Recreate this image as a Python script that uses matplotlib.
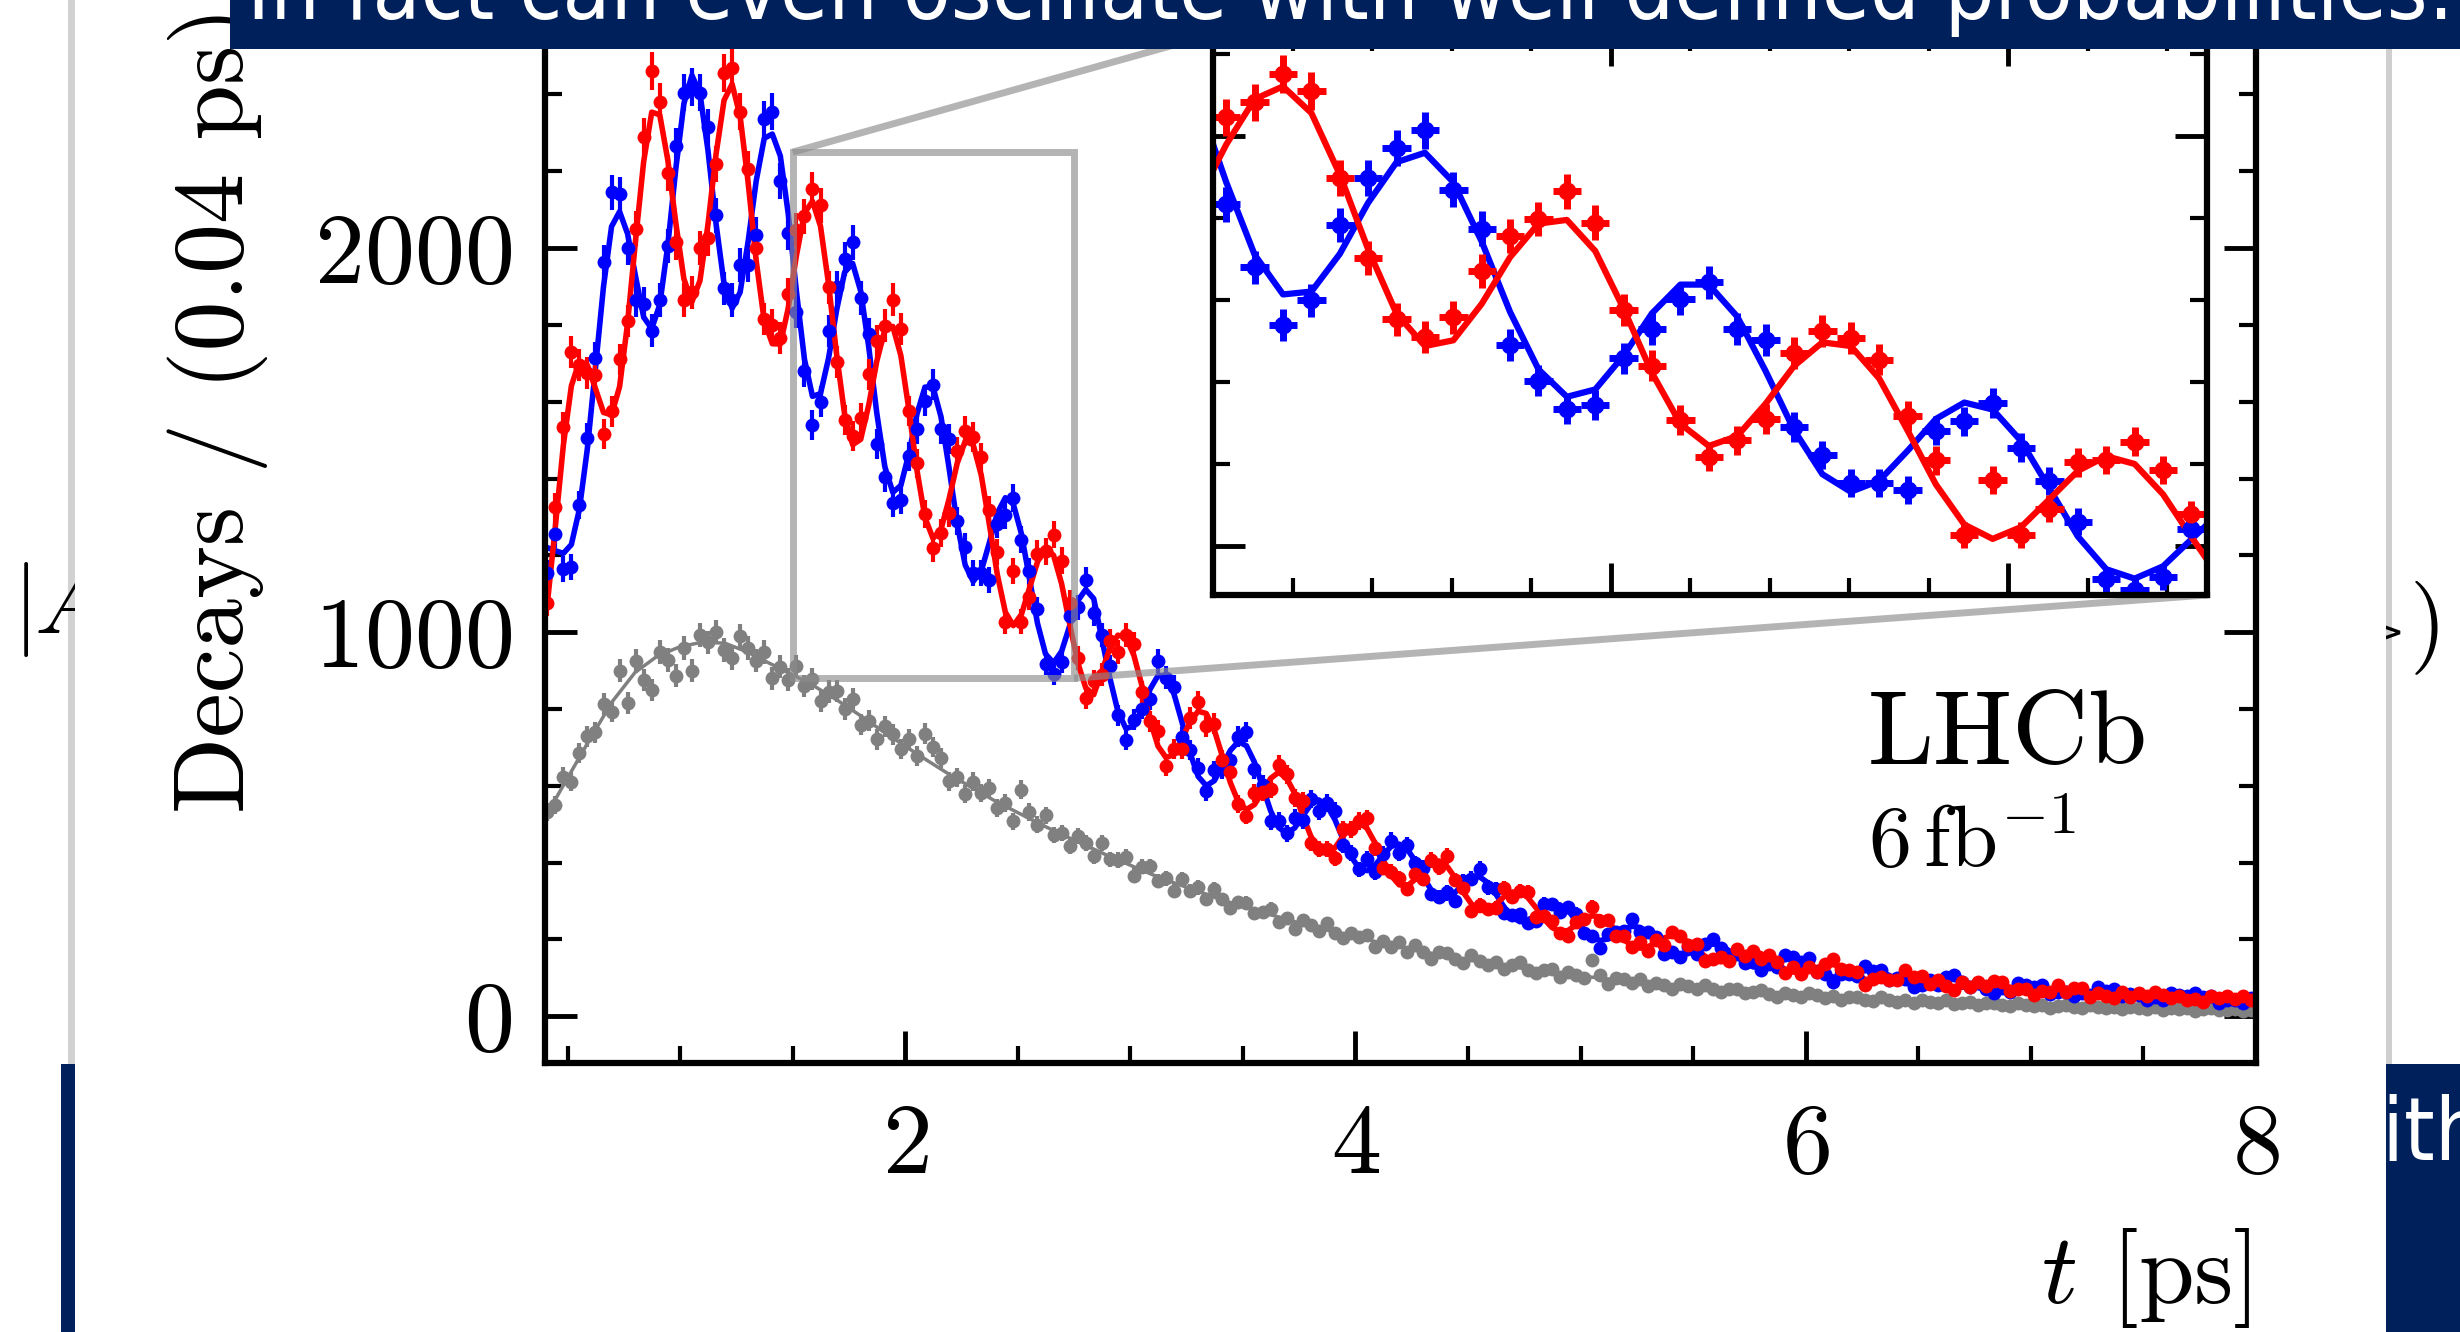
import numpy as np
import matplotlib
matplotlib.use("Agg")
import matplotlib.pyplot as plt
from matplotlib import font_manager
from matplotlib.font_manager import FontProperties
from matplotlib.ticker import MultipleLocator
from matplotlib.patches import Rectangle
from mpl_toolkits.axes_grid1.inset_locator import mark_inset

# Canvas size in pixels (dpi 100)
W, H = 2460, 1332

plt.rcParams["font.family"] = "cmr10"
plt.rcParams["mathtext.fontset"] = "cm"
plt.rcParams["axes.unicode_minus"] = False
plt.rcParams["axes.formatter.use_mathtext"] = True

# ---- data ----
# bin centres of the decay-time histogram (ps)
t_bins = np.linspace(0.410, 7.978, 213)
bin_half = 0.0357 / 2

decays_blue = [
    1155, 1255, 1165, 1170, 1330, 1505, 1715, 1965, 2145, 2140,
    2000, 1865, 1855, 1785, 1865, 2005, 2265, 2405, 2420, 2405,
    2315, 2085, 1895, 1865, 1955, 1955, 2035, 2335, 2355, 2175,
    2040, 1834, 1680, 1539, 1600, 1784, 1898, 1972, 2015, 1870,
    1775, 1490, 1403, 1335, 1345, 1458, 1530, 1603, 1644, 1530,
    1503, 1290, 1222, 1154, 1154, 1136, 1281, 1304, 1349, 1240,
    1159, 1059, 918, 891, 923, 1041, 1065, 1137, 1049, 993,
    911, 783, 719, 772, 801, 825, 925, 881, 858, 726,
    694, 646, 585, 640, 643, 666, 728, 740, 643, 603,
    507, 509, 476, 516, 510, 565, 533, 556, 534, 445,
    424, 382, 409, 375, 423, 457, 425, 445, 398, 386,
    317, 310, 323, 300, 351, 358, 384, 335, 330, 269,
    264, 266, 243, 248, 293, 291, 270, 283, 267, 216,
    208, 177, 214, 219, 223, 252, 219, 218, 207, 162,
    168, 155, 180, 161, 187, 201, 177, 156, 162, 139,
    142, 119, 137, 128, 158, 153, 141, 151, 114, 110,
    89, 110, 109, 105, 130, 117, 121, 95, 100, 97,
    77, 82, 94, 81, 101, 106, 89, 76, 86, 71,
    60, 73, 64, 87, 81, 75, 80, 57, 63, 63,
    52, 61, 55, 75, 66, 70, 52, 57, 56, 43,
    49, 41, 60, 55, 52, 60, 49, 52, 35, 41,
    43, 33, 47,
]

decays_red = [
    1075, 1325, 1535, 1730, 1695, 1675, 1670, 1515, 1575, 1710,
    1810, 2050, 2290, 2460, 2380, 2195, 2015, 1865, 1885, 2000,
    2025, 2220, 2455, 2470, 2355, 2205, 2000, 1815, 1800, 1765,
    1880, 2047, 2083, 2153, 2111, 1898, 1703, 1553, 1510, 1558,
    1671, 1757, 1798, 1866, 1789, 1576, 1440, 1308, 1218, 1258,
    1310, 1471, 1524, 1508, 1455, 1317, 1209, 1027, 1160, 1027,
    1091, 1204, 1210, 1254, 1186, 1077, 933, 828, 872, 889,
    978, 949, 993, 969, 843, 768, 743, 652, 695, 695,
    776, 819, 755, 761, 667, 635, 552, 522, 581, 584,
    592, 655, 630, 568, 559, 450, 435, 435, 411, 487,
    487, 508, 515, 438, 387, 376, 360, 332, 369, 358,
    406, 388, 417, 355, 333, 273, 290, 279, 282, 333,
    310, 326, 323, 259, 260, 248, 216, 210, 246, 253,
    285, 249, 250, 208, 210, 179, 193, 170, 199, 186,
    220, 209, 186, 188, 143, 150, 153, 143, 174, 156,
    169, 148, 159, 141, 112, 127, 110, 128, 116, 135,
    149, 122, 119, 114, 82, 96, 101, 94, 94, 119,
    102, 105, 83, 93, 78, 68, 88, 76, 89, 78,
    91, 89, 65, 70, 71, 55, 66, 63, 81, 64,
    72, 74, 51, 59, 52, 46, 62, 50, 61, 52,
    64, 56, 46, 52, 42, 45, 36, 52, 47, 53,
    44, 53, 41,
]

decays_grey = [
    531, 549, 623, 610, 686, 729, 739, 814, 793, 900,
    815, 925, 875, 850, 948, 927, 887, 958, 900, 993,
    973, 1000, 954, 933, 989, 958, 926, 948, 880, 910,
    876, 911, 860, 878, 820, 845, 847, 800, 826, 759,
    769, 721, 755, 734, 696, 721, 678, 735, 700, 673,
    612, 622, 578, 610, 581, 593, 542, 555, 507, 590,
    532, 498, 523, 472, 477, 442, 469, 450, 416, 450,
    408, 407, 414, 366, 389, 390, 352, 359, 327, 356,
    327, 335, 304, 331, 304, 281, 296, 295, 268, 270,
    280, 245, 256, 228, 250, 238, 222, 243, 216, 203,
    217, 205, 212, 181, 195, 180, 192, 168, 186, 168,
    150, 166, 165, 150, 139, 159, 144, 132, 142, 122,
    133, 141, 121, 112, 120, 124, 101, 115, 107, 99,
    146, 107, 85, 99, 98, 87, 97, 79, 86, 82,
    71, 84, 78, 70, 81, 70, 62, 71, 71, 59,
    63, 69, 58, 51, 61, 56, 50, 59, 54, 48,
    53, 41, 49, 51, 43, 39, 49, 43, 38, 43,
    34, 42, 38, 34, 41, 32, 34, 36, 28, 34,
    35, 30, 26, 33, 29, 26, 30, 21, 27, 28,
    24, 20, 29, 23, 20, 24, 18, 25, 21, 18,
    24, 16, 20, 18, 21, 14, 19, 20, 15, 17,
    18, 13, 16,
]

# fitted curves, same bins
fit_blue = [
    1220, 1212, 1205, 1228, 1320, 1479, 1688, 1900, 2056, 2095,
    2037, 1925, 1820, 1790, 1853, 2007, 2207, 2376, 2450, 2403,
    2254, 2064, 1907, 1843, 1885, 2018, 2175, 2286, 2297, 2240,
    2087, 1888, 1711, 1614, 1621, 1713, 1838, 1937, 1960, 1888,
    1743, 1571, 1431, 1364, 1382, 1465, 1568, 1638, 1638, 1560,
    1427, 1283, 1175, 1132, 1159, 1232, 1310, 1350, 1333, 1256,
    1140, 1023, 943, 920, 950, 1016, 1081, 1111, 1087, 984,
    881, 794, 749, 755, 798, 851, 887, 887, 838, 764,
    684, 624, 600, 613, 651, 692, 715, 704, 661, 598,
    535, 491, 476, 490, 521, 551, 563, 549, 512, 462,
    416, 386, 379, 393, 419, 442, 448, 435, 404, 363,
    328, 308, 307, 323, 344, 360, 363, 348, 319, 286,
    259, 246, 249, 263, 280, 291, 290, 275, 251, 225,
    205, 197, 201, 213, 227, 234, 231, 217, 197, 176,
    162, 158, 163, 173, 183, 188, 184, 171, 155, 139,
    129, 127, 132, 140, 148, 151, 146, 135, 121, 109,
    102, 101, 106, 113, 119, 119, 115, 106, 95, 86,
    81, 82, 87, 93, 97, 97, 92, 84, 75, 69,
    66, 68, 72, 77, 80, 79, 74, 68, 61, 56,
    55, 57, 61, 65, 67, 65, 61, 56, 50, 47,
    46, 48, 51, 55, 56, 54, 50, 45, 41, 39,
    39, 41, 44,
]

fit_red = [
    1072, 1273, 1486, 1641, 1706, 1695, 1634, 1572, 1566, 1639,
    1805, 2023, 2226, 2354, 2347, 2229, 2065, 1920, 1860, 1915,
    2062, 2244, 2385, 2427, 2343, 2170, 1967, 1810, 1751, 1750,
    1845, 1980, 2091, 2122, 2057, 1907, 1724, 1567, 1488, 1502,
    1591, 1705, 1787, 1796, 1720, 1579, 1422, 1298, 1244, 1268,
    1347, 1439, 1497, 1488, 1409, 1282, 1150, 1052, 1017, 1046,
    1114, 1183, 1219, 1200, 1126, 1022, 921, 855, 837, 898,
    957, 992, 987, 939, 860, 771, 703, 673, 682, 722,
    768, 794, 788, 745, 677, 608, 557, 538, 551, 584,
    619, 635, 620, 580, 523, 469, 433, 423, 438, 468,
    494, 504, 489, 451, 407, 366, 342, 339, 356, 381,
    400, 404, 389, 359, 322, 292, 275, 276, 291, 310,
    323, 324, 309, 283, 254, 231, 220, 223, 237, 253,
    261, 259, 245, 223, 199, 182, 177, 181, 193, 204,
    210, 206, 193, 175, 157, 144, 142, 147, 157, 165,
    168, 163, 152, 137, 122, 115, 114, 119, 127, 133,
    134, 129, 119, 107, 96, 91, 91, 96, 102, 107,
    107, 102, 94, 85, 77, 73, 75, 79, 84, 87,
    87, 82, 75, 68, 62, 60, 62, 66, 70, 72,
    72, 67, 61, 55, 51, 50, 52, 56, 59, 61,
    59, 55, 50, 45, 43, 42, 44, 47, 50, 51,
    49, 46, 41,
]

fit_grey_t = np.linspace(0.4, 8.0, 77)
fit_grey = [
    517, 620, 722, 820, 895, 938, 962, 974, 971, 948,
    918, 889, 858, 822, 783, 742, 703, 665, 628, 594,
    560, 530, 500, 472, 445, 418, 393, 368, 346, 325,
    304, 286, 268, 251, 235, 220, 206, 193, 180, 168,
    157, 147, 137, 128, 120, 112, 105, 98, 92, 86,
    80, 75, 70, 65, 61, 57, 54, 50, 47, 44,
    41, 38, 36, 34, 32, 30, 28, 26, 24.5, 23,
    21.5, 20, 19, 18, 17, 16, 15,
]

banner_text = "In fact can even oscillate with well defined probabilities:"
navy = "#00205b"

# pick a narrow sans face for the slide text if one is installed
_cond = [f for f in font_manager.fontManager.ttflist
         if ("Narrow" in f.name or "Condensed" in f.name
             or f.stretch in ("condensed", "semi-condensed", "extra-condensed"))
         and f.style == "normal" and f.weight in (400, "normal", "regular")]
if _cond:
    slide_font = FontProperties(fname=_cond[0].fname)
else:
    slide_font = FontProperties(family=["Liberation Sans", "DejaVu Sans"])


def rect_px(x0, y0, x1, y1):
    # pixel box (top-left origin) -> figure fraction [l, b, w, h]
    return [x0 / W, 1 - y1 / H, (x1 - x0) / W, (y1 - y0) / H]


fig = plt.figure(figsize=(W / 100, H / 100), dpi=100)
renderer = fig.canvas.get_renderer()

# ---- slide behind the pasted figure ----
bg = fig.add_axes([0, 0, 1, 1], zorder=0)
bg.set_xlim(0, W)
bg.set_ylim(H, 0)
bg.axis("off")
bg.add_patch(Rectangle((61, 1064), W - 61, H - 1064, color=navy, lw=0))
bg.add_patch(Rectangle((68, 0), 7, 1064, color="#d2d2d2", lw=0))
bg.add_patch(Rectangle((2386, 0), 6, 1064, color="#cfcfcf", lw=0))
bg.text(12, 633, r"$|$", fontsize=68, va="baseline")
bg.text(34, 633, r"$A$", fontsize=68, va="baseline")
bg.text(2378, 642, ">", fontsize=22, family="DejaVu Sans", weight="bold", va="baseline")
bg.text(2410, 650, ")", fontsize=68, va="baseline")

# ---- slide title banner (drawn on top), size fitted to the slide width ----
top = fig.add_axes([0, 0, 1, 1], zorder=10)
top.set_xlim(0, W)
top.set_ylim(H, 0)
top.axis("off")
top.add_patch(Rectangle((230, 0), W - 230, 49, color=navy, lw=0))
title = top.text(247, 19, banner_text, color="white", fontproperties=slide_font,
                 fontsize=60, va="baseline")
w_now = title.get_window_extent(renderer).width
slide_size = 60 * 2208 / w_now
title.set_fontsize(slide_size)

# "with" in the lower navy box, its first letter hidden behind the picture
probe = bg.text(0, 0, "w", fontproperties=slide_font, fontsize=slide_size)
w_width = probe.get_window_extent(renderer).width
probe.remove()
bg.text(2383 - w_width, 1160, "with", color="white", fontproperties=slide_font,
        fontsize=slide_size, va="baseline")

# the white picture itself
bg.add_patch(Rectangle((75, 0), 2311, H, color="white", lw=0, zorder=5))

# ---- main plot ----
ax = fig.add_axes(rect_px(545, 0, 2256, 1063), zorder=1)
ax.set_xlim(0.4, 8.0)
ax.set_ylim(-122, 2646)

eb_main = dict(fmt="o", ms=10, mew=0, elinewidth=3, capsize=0)
ax.errorbar(t_bins, decays_grey, yerr=np.sqrt(decays_grey), xerr=bin_half,
            color="#808080", **eb_main)
ax.plot(fit_grey_t, fit_grey, color="#808080", lw=2.5)
ax.errorbar(t_bins, decays_blue, yerr=np.sqrt(decays_blue), xerr=bin_half,
            color="blue", **eb_main)
ax.plot(t_bins, fit_blue, color="blue", lw=4)
ax.errorbar(t_bins, decays_red, yerr=np.sqrt(decays_red), xerr=bin_half,
            color="red", **eb_main)
ax.plot(t_bins, fit_red, color="red", lw=4)

ax.xaxis.set_major_locator(MultipleLocator(2))
ax.xaxis.set_minor_locator(MultipleLocator(0.5))
ax.yaxis.set_major_locator(MultipleLocator(1000))
ax.yaxis.set_minor_locator(MultipleLocator(200))
ax.tick_params(labelsize=72)
ax.tick_params(axis="x", pad=29)
ax.tick_params(axis="y", pad=24)

# ---- zoomed inset ----
axins = fig.add_axes(rect_px(1213, 34, 2207, 595), zorder=2)
axins.set_xlim(1.5, 2.75)
axins.set_ylim(880, 2250)
eb_ins = dict(fmt="o", ms=13, mew=0, elinewidth=5, capsize=0)
axins.errorbar(t_bins, decays_blue, yerr=np.sqrt(decays_blue), xerr=bin_half,
               color="blue", **eb_ins)
axins.plot(t_bins, fit_blue, color="blue", lw=4.5)
axins.errorbar(t_bins, decays_red, yerr=np.sqrt(decays_red), xerr=bin_half,
               color="red", **eb_ins)
axins.plot(t_bins, fit_red, color="red", lw=4.5)
axins.xaxis.set_major_locator(MultipleLocator(0.5))
axins.xaxis.set_minor_locator(MultipleLocator(0.1))
axins.yaxis.set_major_locator(MultipleLocator(1000))
axins.yaxis.set_minor_locator(MultipleLocator(200))
axins.tick_params(labelbottom=False, labelleft=False)

for a in (ax, axins):
    a.tick_params(which="both", direction="in", top=True, right=True)
    a.tick_params(which="major", length=23, width=3.5)
    a.tick_params(which="minor", length=12, width=3)
    for s in a.spines.values():
        s.set_linewidth(4.5)

pp, p1, p2 = mark_inset(ax, axins, loc1=2, loc2=4, fill=False,
                        ec=(0.55, 0.55, 0.55), alpha=0.65, lw=5)
pp.set_zorder(5)

# ---- labels ----
fig.text(218 / W, 1 - 813 / H, "Decays / (0.04 ps)", rotation=90,
         ha="center", va="bottom", fontsize=72)
fig.text(2251 / W, 1 - 1303 / H, r"$t$ [ps]", ha="right", va="baseline", fontsize=72)
fig.text(1868 / W, 1 - 763 / H, "LHCb", ha="left", va="baseline", fontsize=76)
fig.text(1868 / W, 1 - 867 / H, r"$6\,\mathrm{fb}^{-1}$", ha="left", va="baseline",
         fontsize=62)

fig.savefig("out.png", dpi=100)
